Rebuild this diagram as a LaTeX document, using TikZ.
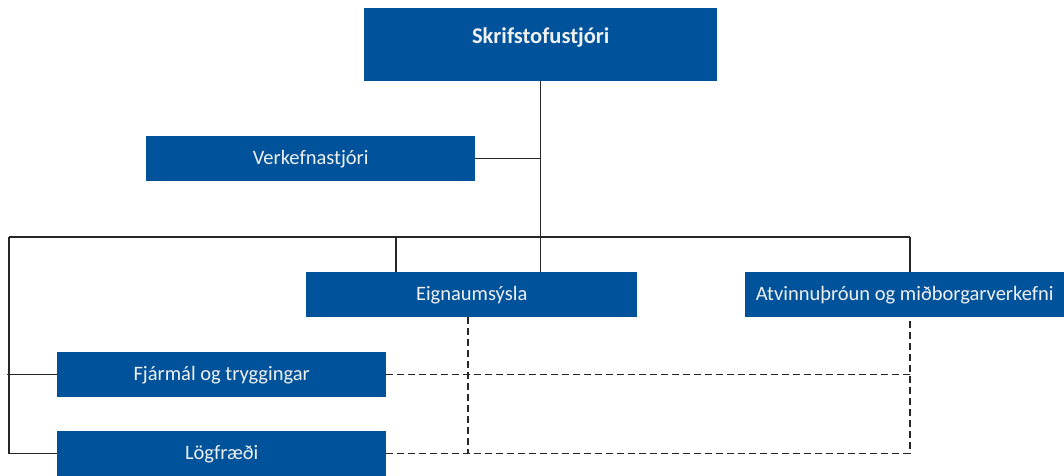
\documentclass[tikz,border=0pt]{standalone}
\usepackage{fontspec}
\setmainfont{Carlito}
\definecolor{orgblue}{RGB}{0,82,155}
\tikzset{
  unit/.style={fill=orgblue, text=white!94!black, anchor=north west, inner sep=0pt,
    minimum height=45pt, font=\fontsize{20.5}{22}\selectfont},
  link/.style={draw=black!85, line width=1.5pt},
  dotlink/.style={link, dash pattern=on 7pt off 4pt}
}
\begin{document}
\begin{tikzpicture}[x=1pt, y=-1pt]
            \useasboundingbox (0,0) rectangle (1064,475);

            \node[unit, minimum width=353pt, text height=35pt, text depth=38pt,
              minimum height=73pt, font=\fontsize{22.5}{24}\selectfont\bfseries] (skrif) at (364, 8) {Skrifstofustjóri};
            \node[unit, minimum width=329pt] (verk) at (146, 136) {Verkefnastjóri};
            \node[unit, minimum width=331pt] (eign) at (306, 272) {Eignaumsýsla};
            \node[unit, minimum width=319pt] (atv) at (745, 272) {Atvinnuþróun og miðborgarverkefni};
            \node[unit, minimum width=329pt] (fjar) at (57, 352) {Fjármál og tryggingar};
            \node[unit, minimum width=329pt] (log) at (57, 431) {Lögfræði};

            \coordinate (busL) at (9, 237);
            \coordinate (busR) at (910, 237);
            \coordinate (eignTap) at (396, 237);
            \coordinate (eignLow) at (468, 317);

            \draw [link] (skrif.south) -- (skrif.south |- eign.north);
            \draw [link] (verk.east) -- (verk.east -| skrif.south);
            \draw [link] (busL) -- (busR);
            \draw [link] (eignTap) -- (eignTap |- eign.north);
            \draw [link] (busR) -- (busR |- atv.north);
            \draw [link] (busL) |- (log.west);
            \draw [link] ([xshift=-2pt]busL |- fjar.west) -- (fjar.west);

            \draw [dotlink] (fjar.east) -- (fjar.east -| busR);
            \draw [dotlink] (log.east) -- (log.east -| busR) -- (busR |- atv.south);
            \draw [dotlink] (eignLow) -- (eignLow |- log.east);
        \end{tikzpicture}
\end{document}
